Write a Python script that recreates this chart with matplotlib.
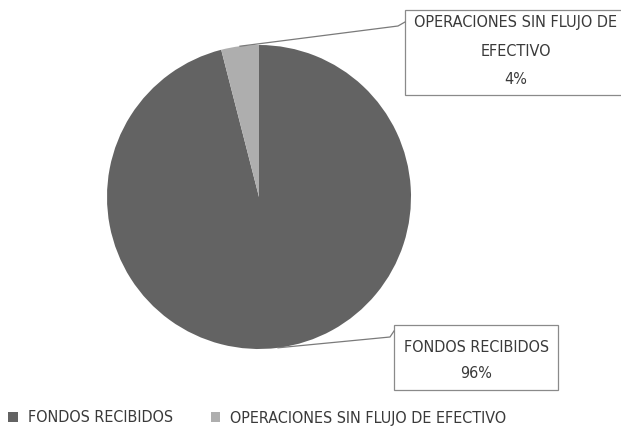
import numpy as np
import matplotlib
matplotlib.use("Agg")
import matplotlib.pyplot as plt
from matplotlib.patches import Rectangle

# data
labels = ['FONDOS RECIBIDOS', 'OPERACIONES SIN FLUJO DE EFECTIVO']
values = [96, 4]
box_text = ['FONDOS RECIBIDOS\n96%', 'OPERACIONES SIN FLUJO DE\nEFECTIVO\n4%']
colors = ['#636363', '#aeaeae']

plt.rcParams['font.family'] = ['DejaVu Sans']
plt.rcParams['font.stretch'] = 'condensed'

W, H = 621, 438
fig = plt.figure(figsize=(W / 100, H / 100), dpi=100)

def fx(x):
    return x / W

def fy(y):
    return 1 - y / H

# pie axes (centre ~ (259,197) px, radius ~152 px)
cx, cy, r = 259, 197, 152
ax = fig.add_axes([fx(cx - r), fy(cy + r), 2 * r / W, 2 * r / H])
wedges, _ = ax.pie(values, colors=colors, startangle=90, counterclock=False,
                   wedgeprops=dict(linewidth=0))
ax.set_xlim(-1, 1)
ax.set_ylim(-1, 1)
ax.set_aspect('equal')
ax.axis('off')

# callout boxes (pixel positions)
boxes = [
    dict(x0=394, y0=325, x1=558, y1=390, tx=476, size=11.5,
         line_y=[347, 373], lead=(390, 337, 394, 331)),
    dict(x0=405, y0=10, x1=640, y1=95, tx=516, size=11.6,
         line_y=[23, 52, 79], lead=(398, 26, 405, 22)),
]

for i, w in enumerate(wedges):
    mid = np.deg2rad((w.theta1 + w.theta2) / 2)
    px = cx + r * np.cos(mid)
    py = cy - r * np.sin(mid)
    b = boxes[i]
    rect = Rectangle((fx(b['x0']), fy(b['y1'])), fx(b['x1'] - b['x0']), (b['y1'] - b['y0']) / H,
                     transform=fig.transFigure, facecolor='white', edgecolor='#8a8a8a',
                     linewidth=0.9, clip_on=False)
    fig.patches.append(rect)
    lx, ly, bx, by = b['lead']
    fig.add_artist(plt.Line2D([fx(px), fx(lx), fx(bx)], [fy(py), fy(ly), fy(by)],
                              transform=fig.transFigure, color='#7a7a7a', linewidth=0.9))
    for line, yy in zip(box_text[i].split('\n'), b['line_y']):
        fig.text(fx(b['tx']), fy(yy), line, ha='center', va='center',
                 fontsize=b['size'], color='#3a3a3a')

fig.legend(wedges, labels, loc='center left', bbox_to_anchor=(fx(-6), fy(418)),
           ncol=2, frameon=False, fontsize=11.5, handlelength=0.6, handleheight=0.6,
           handletextpad=0.6, columnspacing=2.4, labelcolor='#3a3a3a')

fig.savefig('out.png', dpi=100)
